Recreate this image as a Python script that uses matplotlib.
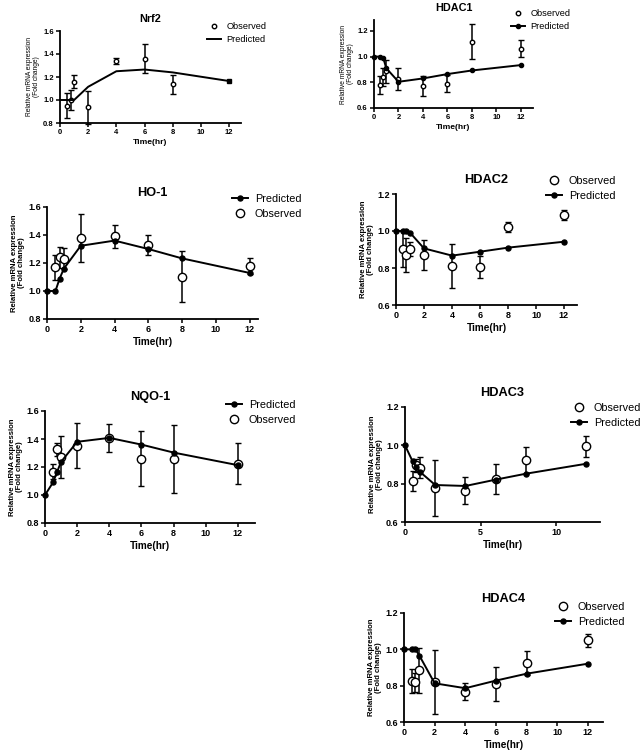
import numpy as np
import matplotlib.pyplot as plt
from matplotlib.lines import Line2D

plt.rcParams['font.family'] = ['Liberation Sans', 'DejaVu Sans']

# time points (hr)
t_pred = [0, 0.5, 0.75, 1, 2, 4, 6, 8, 12]
t_obs = [0.5, 0.75, 1, 2, 4, 6, 8, 12]

# Nrf2
nrf2_pred = [1.0, 1.0, 1.0, 1.0, 1.115, 1.25, 1.265, 1.24, 1.165]
nrf2_obs = [0.95, 1.00, 1.16, 0.935, 1.337, 1.36, 1.135]
nrf2_err = [0.11, 0.085, 0.055, 0.145, 0.025, 0.125, 0.08]

# HDAC1
hdac1_pred = [1.0, 1.0, 0.993, 0.91, 0.804, 0.83, 0.864, 0.892, 0.934]
hdac1_obs = [0.78, 0.84, 0.885, 0.825, 0.768, 0.79, 1.117, 1.063]
hdac1_err = [0.072, 0.071, 0.087, 0.088, 0.078, 0.064, 0.138, 0.063]

# HO-1
ho1_pred = [1.0, 1.0, 1.089, 1.16, 1.323, 1.36, 1.30, 1.233, 1.129]
ho1_obs = [1.169, 1.24, 1.23, 1.378, 1.39, 1.33, 1.103, 1.176]
ho1_err = [0.09, 0.075, 0.075, 0.17, 0.085, 0.072, 0.18, 0.057]

# HDAC2
hdac2_pred = [1.0, 1.0, 1.0, 0.991, 0.906, 0.867, 0.888, 0.91, 0.942]
hdac2_obs = [0.903, 0.872, 0.903, 0.872, 0.812, 0.805, 1.02, 1.088]
hdac2_err = [0.095, 0.092, 0.04, 0.081, 0.118, 0.058, 0.027, 0.027]

# NQO-1
nqo1_pred = [1.0, 1.09, 1.165, 1.237, 1.38, 1.408, 1.36, 1.303, 1.213]
nqo1_obs = [1.165, 1.327, 1.27, 1.353, 1.405, 1.258, 1.258, 1.225]
nqo1_err = [0.053, 0.045, 0.15, 0.16, 0.1, 0.197, 0.243, 0.147]

# HDAC3
hdac3_pred = [1.0, 0.917, 0.887, 0.861, 0.793, 0.788, 0.821, 0.852, 0.904]
hdac3_obs = [0.812, 0.896, 0.882, 0.776, 0.763, 0.826, 0.922, 0.995]
hdac3_err = [0.052, 0.035, 0.055, 0.145, 0.07, 0.079, 0.071, 0.055]

# HDAC4
hdac4_pred = [1.0, 1.0, 1.0, 0.966, 0.813, 0.786, 0.828, 0.866, 0.921]
hdac4_obs = [0.826, 0.818, 0.886, 0.822, 0.767, 0.81, 0.923, 1.05]
hdac4_err = [0.064, 0.053, 0.124, 0.177, 0.048, 0.092, 0.067, 0.036]

fig = plt.figure(figsize=(6.4, 7.5), dpi=100)
W, H = 640.0, 750.0


def px_axes(l, r, top, bot):
    return fig.add_axes([l / W, 1 - bot / H, (r - l) / W, (bot - top) / H])


def panel(ax, title, tp, pred, to, obs, err, xlim, ylim, yticks, xticks,
          leg_xy, order, small=False, pred_marker=True):
    s = 0.85 if small else 1.0
    obs_ms = 3.2 if small else 6.0
    pred_ms = 3.0 if small else 3.6
    ax.errorbar(to, obs, yerr=err, fmt='o', ms=obs_ms,
                mfc='white', mec='black', mew=1.0, ecolor='black',
                elinewidth=1.1, capsize=2.2, capthick=1.1, zorder=3, clip_on=False)
    if pred_marker:
        ax.plot(tp, pred, '-o', color='black', lw=1.4, ms=pred_ms,
                zorder=4, clip_on=False)
    else:
        ax.plot(tp, pred, '-', color='black', lw=1.4, zorder=4, clip_on=False)
        ax.plot(tp[-1:], pred[-1:], 's', color='black', ms=3, zorder=4, clip_on=False)
    ax.set_xlim(*xlim)
    ax.set_ylim(*ylim)
    ax.set_xticks(xticks)
    ax.set_yticks(yticks)
    ax.set_yticklabels(['%.1f' % v for v in yticks])
    for sp in ['top', 'right']:
        ax.spines[sp].set_visible(False)
    for sp in ['left', 'bottom']:
        ax.spines[sp].set_linewidth(1.3)
    ax.tick_params(direction='out', length=3, width=1.1, pad=1.5,
                   labelsize=6.5 * s)
    for lab in ax.get_xticklabels() + ax.get_yticklabels():
        lab.set_fontweight('bold')
    ax.set_title(title, fontsize=9.2 * s, fontweight='bold', pad=8 * s)
    ax.set_xlabel('Time(hr)', fontsize=7.2 * s, fontweight='bold', labelpad=2)
    ax.set_ylabel('Relative mRNA expression\n(Fold change)', fontsize=5.6 * s,
                  fontweight='normal' if small else 'bold', labelpad=2,
                  linespacing=1.1)

    h_obs = Line2D([], [], ls='none', marker='o', ms=obs_ms,
                   mfc='white', mec='black', mew=1.0)
    if pred_marker:
        h_pred = Line2D([], [], color='black', lw=1.4, marker='o', ms=pred_ms)
    else:
        h_pred = Line2D([], [], color='black', lw=1.4)
    hd = {'Observed': h_obs, 'Predicted': h_pred}
    ax.legend([hd[k] for k in order], order, loc='upper left',
              bbox_to_anchor=(leg_xy[0] / W, 1 - leg_xy[1] / H),
              bbox_transform=fig.transFigure, frameon=False, borderpad=0,
              borderaxespad=0, handlelength=1.5, handletextpad=0.6,
              labelspacing=0.45, fontsize=7.8 * s)


ax = px_axes(60, 241, 31, 123)
panel(ax, 'Nrf2', t_pred, nrf2_pred, t_obs[:7], nrf2_obs, nrf2_err,
      (0, 12.85), (0.8, 1.6), [0.8, 1.0, 1.2, 1.4, 1.6], range(0, 13, 2),
      (207, 22), ['Observed', 'Predicted'], small=True, pred_marker=False)

ax = px_axes(374, 533, 20, 108)
panel(ax, 'HDAC1', t_pred, hdac1_pred, t_obs, hdac1_obs, hdac1_err,
      (0, 13.0), (0.6, 1.285), [0.6, 0.8, 1.0, 1.2], range(0, 13, 2),
      (511, 9), ['Observed', 'Predicted'], small=True)

ax = px_axes(47, 258, 207, 319)
panel(ax, 'HO-1', t_pred, ho1_pred, t_obs, ho1_obs, ho1_err,
      (0, 12.5), (0.8, 1.6), [0.8, 1.0, 1.2, 1.4, 1.6], range(0, 13, 2),
      (232, 194), ['Predicted', 'Observed'])

ax = px_axes(396, 577, 194, 305)
panel(ax, 'HDAC2', t_pred, hdac2_pred, t_obs, hdac2_obs, hdac2_err,
      (0, 12.93), (0.6, 1.2), [0.6, 0.8, 1.0, 1.2], range(0, 13, 2),
      (546, 176), ['Observed', 'Predicted'])

ax = px_axes(45, 255, 411, 523)
panel(ax, 'NQO-1', t_pred, nqo1_pred, t_obs, nqo1_obs, nqo1_err,
      (0, 13.06), (0.8, 1.6), [0.8, 1.0, 1.2, 1.4, 1.6], range(0, 13, 2),
      (226, 400), ['Predicted', 'Observed'])

ax = px_axes(405, 600, 407, 522)
panel(ax, 'HDAC3', t_pred, hdac3_pred, t_obs, hdac3_obs, hdac3_err,
      (0, 12.9), (0.6, 1.2), [0.6, 0.8, 1.0, 1.2], [0, 5, 10],
      (571, 403), ['Observed', 'Predicted'])

ax = px_axes(404, 603, 613, 722)
panel(ax, 'HDAC4', t_pred, hdac4_pred, t_obs, hdac4_obs, hdac4_err,
      (0, 12.98), (0.6, 1.2), [0.6, 0.8, 1.0, 1.2], range(0, 13, 2),
      (555, 602), ['Observed', 'Predicted'])

fig.savefig('out.png', dpi=100)
